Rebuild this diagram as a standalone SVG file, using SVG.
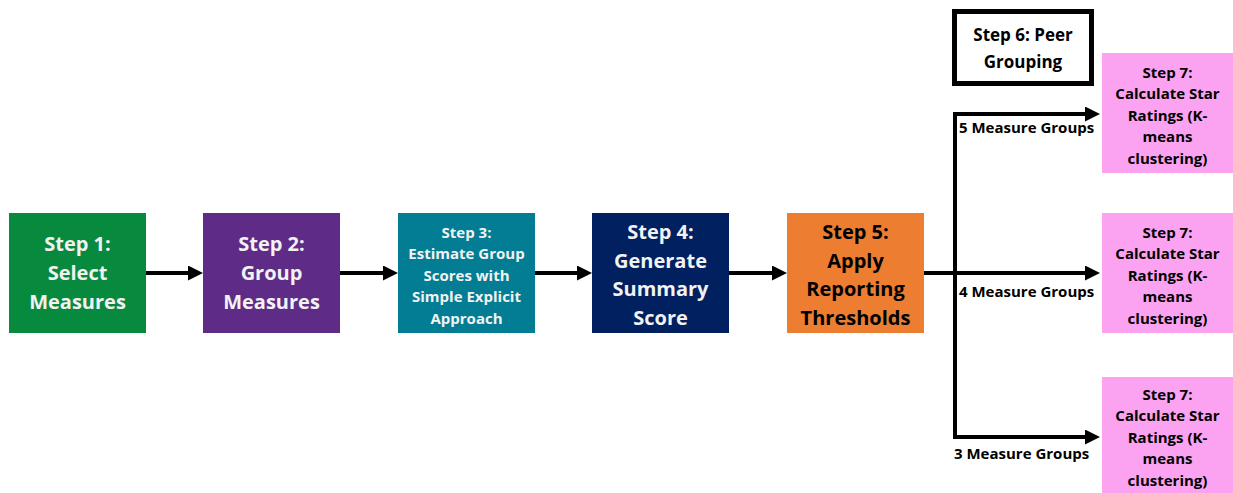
<svg xmlns="http://www.w3.org/2000/svg" width="1233" height="493" viewBox="0 0 1233 493">
<style>
text{font-family:"Open Sans","Liberation Sans",sans-serif;font-weight:bold;text-anchor:middle}
.big{font-size:20px}
.mid{font-size:15px}
.w{fill:#f2f2f2}
.k{fill:#000}
.lbl{font-size:15px;text-anchor:start;fill:#000}
.ln{stroke:#000;stroke-width:4;fill:none}
</style>
<defs>
<marker id="ah" markerUnits="userSpaceOnUse" markerWidth="15" markerHeight="15" refX="4" refY="7.5" orient="auto">
<path d="M0,0 L15,7.5 L0,15 z" fill="#000"/>
</marker>
</defs>
<rect width="1233" height="493" fill="#fff"/>
<g id="connectors">
<line class="ln" x1="146" y1="273" x2="192" y2="273" marker-end="url(#ah)"/>
<line class="ln" x1="340" y1="273" x2="387" y2="273" marker-end="url(#ah)"/>
<line class="ln" x1="535" y1="273" x2="581" y2="273" marker-end="url(#ah)"/>
<line class="ln" x1="729" y1="273" x2="776" y2="273" marker-end="url(#ah)"/>
<line class="ln" x1="924" y1="273" x2="1089" y2="273" marker-end="url(#ah)"/>
<line class="ln" x1="955" y1="112" x2="955" y2="439"/>
<line class="ln" x1="953" y1="114" x2="1089" y2="114" marker-end="url(#ah)"/>
<line class="ln" x1="953" y1="437" x2="1089" y2="437" marker-end="url(#ah)"/>
<text class="lbl" x="959" y="133">5 Measure Groups</text>
<text class="lbl" x="959" y="297">4 Measure Groups</text>
<text class="lbl" x="954" y="459">3 Measure Groups</text>
</g>
<g id="step1">
<rect x="9" y="213" width="137" height="120" fill="#088A3E"/>
<text class="big w" x="77.5" y="251">Step 1:</text>
<text class="big w" x="77.5" y="280">Select</text>
<text class="big w" x="77.5" y="309">Measures</text>
</g>
<g id="step2">
<rect x="203" y="213" width="137" height="120" fill="#5E2C87"/>
<text class="big w" x="271.5" y="251">Step 2:</text>
<text class="big w" x="271.5" y="280">Group</text>
<text class="big w" x="271.5" y="309">Measures</text>
</g>
<g id="step3">
<rect x="398" y="213" width="137" height="120" fill="#027D93"/>
<text class="mid w" x="466.5" y="237.5">Step 3:</text>
<text class="mid w" x="466.5" y="259">Estimate Group</text>
<text class="mid w" x="466.5" y="280.5">Scores with</text>
<text class="mid w" x="466.5" y="302">Simple Explicit</text>
<text class="mid w" x="466.5" y="323.5">Approach</text>
</g>
<g id="step4">
<rect x="592" y="213" width="137" height="120" fill="#002060"/>
<text class="big w" x="660.5" y="239">Step 4:</text>
<text class="big w" x="660.5" y="267.5">Generate</text>
<text class="big w" x="660.5" y="296">Summary</text>
<text class="big w" x="660.5" y="324.5">Score</text>
</g>
<g id="step5">
<rect x="787" y="213" width="137" height="120" fill="#ED7D31"/>
<text class="big k" x="855.5" y="239">Step 5:</text>
<text class="big k" x="855.5" y="267.5">Apply</text>
<text class="big k" x="855.5" y="296">Reporting</text>
<text class="big k" x="855.5" y="324.5">Thresholds</text>
</g>
<g id="step6">
<rect x="954.5" y="11.5" width="137" height="72" fill="#fff" stroke="#000" stroke-width="5"/>
<text class="k" style="font-size:17px" x="1023" y="41">Step 6: Peer</text>
<text class="k" style="font-size:17px" x="1023" y="68">Grouping</text>
</g>
<g id="step7a">
<rect x="1102" y="53" width="131" height="120" fill="#FBA3F0"/>
<text class="mid k" x="1167.5" y="77.5">Step 7:</text>
<text class="mid k" x="1167.5" y="99">Calculate Star</text>
<text class="mid k" x="1167.5" y="120.5">Ratings (K-</text>
<text class="mid k" x="1167.5" y="142">means</text>
<text class="mid k" x="1167.5" y="163.5">clustering)</text>
</g>
<g id="step7b">
<rect x="1102" y="213" width="131" height="120" fill="#FBA3F0"/>
<text class="mid k" x="1167.5" y="237.5">Step 7:</text>
<text class="mid k" x="1167.5" y="259">Calculate Star</text>
<text class="mid k" x="1167.5" y="280.5">Ratings (K-</text>
<text class="mid k" x="1167.5" y="302">means</text>
<text class="mid k" x="1167.5" y="323.5">clustering)</text>
</g>
<g id="step7c">
<rect x="1102" y="377" width="131" height="116" fill="#FBA3F0"/>
<text class="mid k" x="1167.5" y="399.5">Step 7:</text>
<text class="mid k" x="1167.5" y="421">Calculate Star</text>
<text class="mid k" x="1167.5" y="442.5">Ratings (K-</text>
<text class="mid k" x="1167.5" y="464">means</text>
<text class="mid k" x="1167.5" y="485.5">clustering)</text>
</g>
</svg>
